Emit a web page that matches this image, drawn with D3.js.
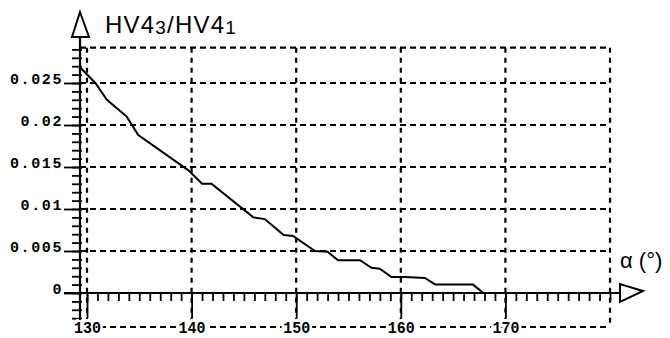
<!DOCTYPE html>
<html><head><meta charset="utf-8">
<script src="https://cdn.jsdelivr.net/npm/d3@7"></script>
<style>body{margin:0;background:#fff}svg{display:block}</style>
</head><body>
<svg id="c" width="670" height="338"></svg>
<script>
const alpha = [129.3,130.8,131.9,133.8,134.9,139.7,141.0,141.9,145.9,147.0,148.8,149.7,151.8,153.0,154.0,156.1,157.2,158.0,159.1,160.4,162.3,163.3,166.9,167.9];
const ratio = [0.0269,0.0250,0.0230,0.0210,0.0188,0.0146,0.0130,0.0130,0.0090,0.0088,0.0069,0.0068,0.0050,0.0049,0.0039,0.0039,0.0030,0.0029,0.0019,0.0019,0.0018,0.0010,0.0010,0];
const xTicks = [130,140,150,160,170];
const xTickLabels = ["130","140","150","160","170"];
const yTicks = [0,0.005,0.01,0.015,0.02,0.025];
const yTickLabels = ["0","0.005","0.01","0.015","0.02","0.025"];
const xGrid = [130,140,150,160,170,180];
const yGrid = [-0.00405,0.005,0.01,0.015,0.02,0.025,0.0292];
const xMinor = d3.range(130,181,1);
const yMinor = d3.range(-3,30,1).map(d=>d/1000);
const yTitle = ["HV4","3","/HV4","1"];
const xTitle = "α (°)";

const svg = d3.select("#c");
const x = d3.scaleLinear().domain([130,180]).range([87,610]);
const y = d3.scaleLinear().domain([0,0.025]).range([293,83]);
const yTop = y(d3.max(yGrid)), yBot = y(d3.min(yGrid));

// grid
svg.append("g").selectAll("line").data(yGrid).join("line")
  .attr("x1",80).attr("x2",x(180)).attr("y1",d=>y(d)).attr("y2",d=>y(d))
  .attr("stroke","#000").attr("stroke-width",2.2).attr("stroke-dasharray","6,4");
svg.append("g").selectAll("line").data(xGrid).join("line")
  .attr("x1",d=>x(d)).attr("x2",d=>x(d)).attr("y1",yTop).attr("y2",yBot)
  .attr("stroke","#000").attr("stroke-width",2.2).attr("stroke-dasharray","5,5");

// curve
svg.append("path").datum(alpha.map((a,i)=>[a,ratio[i]]))
  .attr("d",d3.line().x(d=>x(d[0])).y(d=>y(d[1])))
  .attr("fill","none").attr("stroke","#000").attr("stroke-width",2);

// y axis minor/major ticks
const ay1 = svg.append("g").attr("transform","translate(82,0)")
  .call(d3.axisLeft(y).tickValues(yMinor).tickSize(10).tickFormat(""));
const ay2 = svg.append("g").attr("transform","translate(82,0)")
  .call(d3.axisLeft(y).tickValues(yTicks).tickSize(18).tickPadding(1).tickFormat((d,i)=>yTickLabels[i]));
[ay1,ay2].forEach(g=>{g.select(".domain").remove();g.selectAll("line").attr("stroke","#000").attr("stroke-width",1.8);});
ay2.selectAll("text").attr("dy","0.05em").attr("font-family","Liberation Mono").attr("font-size",15)
  .attr("letter-spacing",1.6).attr("fill","#000").attr("font-weight","bold").attr("x",-19);

// x axis ticks
const ax1 = svg.append("g").attr("transform","translate(0,293)")
  .call(d3.axisBottom(x).tickValues(xMinor).tickSize(8).tickFormat(""));
const ax2 = svg.append("g").attr("transform","translate(0,293)")
  .call(d3.axisBottom(x).tickValues(xTicks).tickSize(25).tickFormat((d,i)=>xTickLabels[i]));
[ax1,ax2].forEach(g=>{g.select(".domain").remove();g.selectAll("line").attr("stroke","#000").attr("stroke-width",1.8);});
ax2.selectAll("text").attr("y",40).attr("dy",0).attr("font-family","Liberation Mono").attr("font-size",17)
  .attr("textLength",27).attr("lengthAdjust","spacingAndGlyphs").attr("font-weight","bold")
  .attr("fill","#000").attr("stroke","#fff").attr("stroke-width",6).attr("paint-order","stroke");

// axes lines
svg.append("line").attr("x1",80).attr("x2",80).attr("y1",37).attr("y2",320).attr("stroke","#000").attr("stroke-width",2.2);
svg.append("line").attr("x1",64).attr("x2",620).attr("y1",293).attr("y2",293).attr("stroke","#000").attr("stroke-width",2.2);

// arrows
svg.append("path").attr("d","M80,12L72,37L89,37Z").attr("fill","#fff").attr("stroke","#000").attr("stroke-width",2);
svg.append("path").attr("d","M620,284L620,302L643,291Z").attr("fill","#fff").attr("stroke","#000").attr("stroke-width",2);

// titles
const t = svg.append("text").attr("x",105).attr("y",33).attr("font-family","Liberation Sans").attr("fill","#000").attr("letter-spacing",1.2);
t.append("tspan").attr("font-size",24).text(yTitle[0]);
t.append("tspan").attr("font-size",19).attr("dy",1).text(yTitle[1]);
t.append("tspan").attr("font-size",24).attr("dy",-1).text(yTitle[2]);
t.append("tspan").attr("font-size",19).attr("dy",1).text(yTitle[3]);
svg.append("text").attr("x",620).attr("y",268).attr("font-family","Liberation Sans").attr("font-size",22).attr("fill","#000").text(xTitle);
</script>
</body></html>
